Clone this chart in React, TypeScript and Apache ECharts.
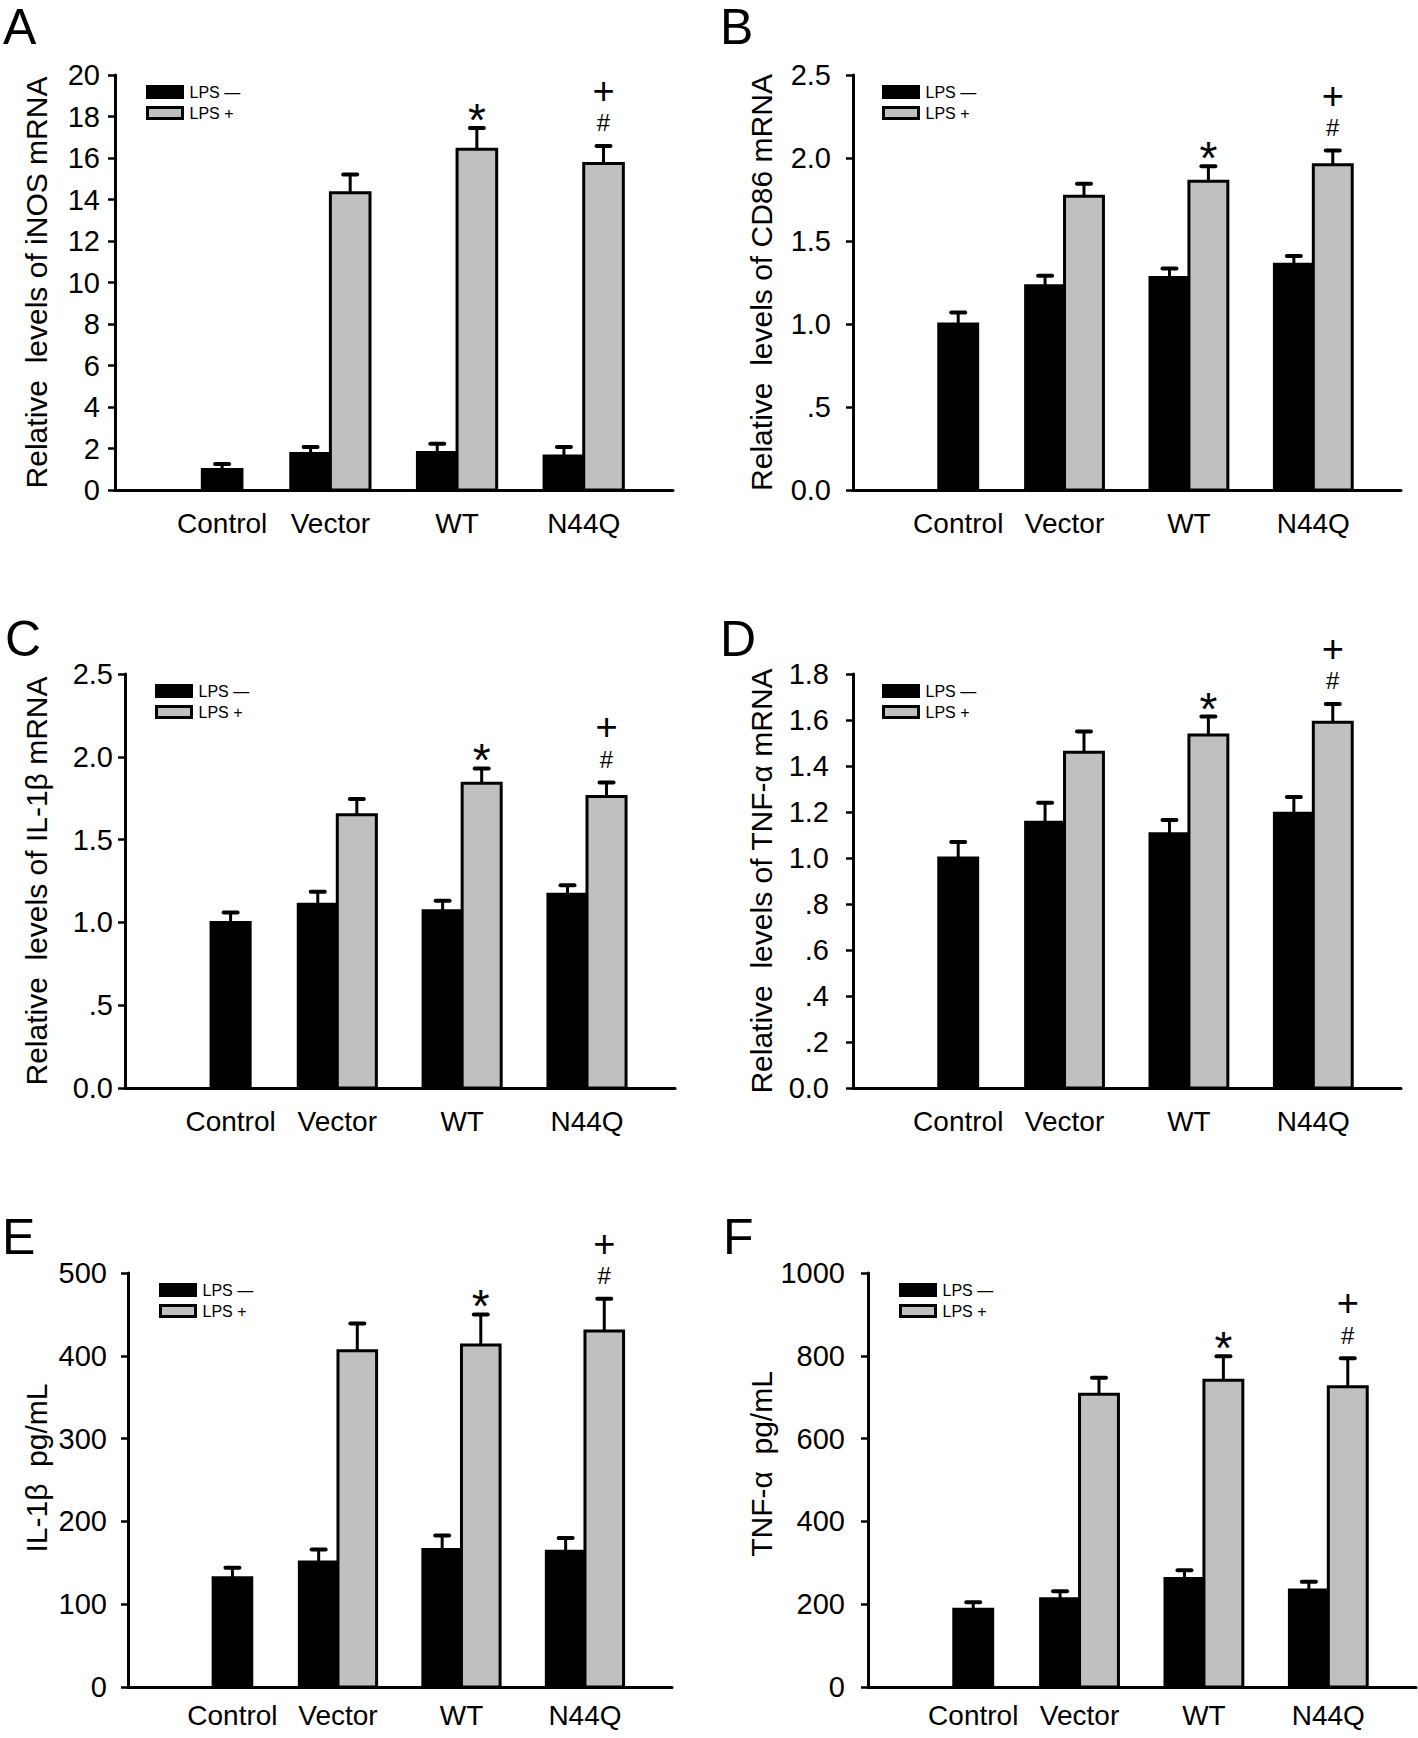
import React, { useEffect, useRef } from "react";
import * as echarts from "echarts";

// ---------- data ----------
const CATEGORIES = ["Control", "Vector", "WT", "N44Q"];
const NAME_NEG = "LPS —";
const NAME_POS = "LPS +";

// A: iNOS mRNA
const INOS_NEG = [0.99, 1.76, 1.81, 1.64];
const INOS_NEG_ERR = [0.26, 0.31, 0.42, 0.43];
const INOS_POS = [null, 14.32, 16.42, 15.74];
const INOS_POS_ERR = [null, 0.88, 1.03, 0.84];

// B: CD86 mRNA
const CD86_NEG = [1.0, 1.23, 1.28, 1.36];
const CD86_NEG_ERR = [0.07, 0.06, 0.055, 0.05];
const CD86_POS = [null, 1.77, 1.86, 1.96];
const CD86_POS_ERR = [null, 0.075, 0.09, 0.085];

// C: IL-1β mRNA
const IL1B_MRNA_NEG = [1.0, 1.11, 1.07, 1.17];
const IL1B_MRNA_NEG_ERR = [0.06, 0.075, 0.06, 0.055];
const IL1B_MRNA_POS = [null, 1.65, 1.84, 1.76];
const IL1B_MRNA_POS_ERR = [null, 0.095, 0.09, 0.085];

// D: TNF-α mRNA
const TNF_MRNA_NEG = [1.0, 1.155, 1.105, 1.195];
const TNF_MRNA_NEG_ERR = [0.07, 0.085, 0.06, 0.07];
const TNF_MRNA_POS = [null, 1.46, 1.535, 1.59];
const TNF_MRNA_POS_ERR = [null, 0.09, 0.08, 0.08];

// E: IL-1β pg/mL
const IL1B_PG_NEG = [132, 151, 166, 164];
const IL1B_PG_NEG_ERR = [12, 15, 17, 16];
const IL1B_PG_POS = [null, 406, 413, 430];
const IL1B_PG_POS_ERR = [null, 33, 37, 39];

// F: TNF-α pg/mL
const TNF_PG_NEG = [188, 213, 262, 234];
const TNF_PG_NEG_ERR = [17, 18, 20, 20];
const TNF_PG_POS = [null, 707, 741, 725];
const TNF_PG_POS_ERR = [null, 40, 58, 69];

// significance marks above the LPS+ bars
const MARKS_LOW = ["", "", "*", "#"];
const MARKS_HIGH = ["", "", "", "+"];

// axis ranges / ticks
const Y_MAX = [20, 2.5, 2.5, 1.8, 500, 1000];
const Y_INTERVAL = [2, 0.5, 0.5, 0.2, 100, 200];
const Y_TITLES = [
  "Relative\u00a0 levels of iNOS mRNA",
  "Relative\u00a0 levels of CD86 mRNA",
  "Relative\u00a0 levels of IL-1β mRNA",
  "Relative\u00a0 levels of TNF-α mRNA",
  "IL-1β\u00a0 pg/mL",
  "TNF-α\u00a0 pg/mL",
];
const PANEL_LETTERS = ["A", "B", "C", "D", "E", "F"];

// ---------- layout (not data) ----------
const FONT = '"Liberation Sans", Arial, Helvetica, sans-serif';
const X_MAX = 100;
const GROUP_POS = [19.2, 38.6, 61.3, 84.0];
const BAR_W = 7.1;

const LAYOUT = [
  { grid: { left: 115, top: 75, width: 558, height: 415 }, nameGap: 64, namePad: 0, labelMargin: 15, xMargin: 19, legend: { left: 146, top: 84 }, letter: [3, 52], decimals: false },
  { grid: { left: 853, top: 75, width: 548, height: 415 }, nameGap: 77, namePad: 0, labelMargin: 22, xMargin: 19, legend: { left: 882, top: 84 }, letter: [720, 52], decimals: true },
  { grid: { left: 125, top: 674, width: 550, height: 414 }, nameGap: 74, namePad: 0, labelMargin: 12, xMargin: 19, legend: { left: 155, top: 683 }, letter: [5, 664], decimals: true },
  { grid: { left: 853, top: 674, width: 548, height: 414 }, nameGap: 77, namePad: 0, labelMargin: 24, xMargin: 19, legend: { left: 882, top: 683 }, letter: [720, 664], decimals: true },
  { grid: { left: 128, top: 1273, width: 544, height: 414 }, nameGap: 77, namePad: 24, labelMargin: 21, xMargin: 14, legend: { left: 159, top: 1282 }, letter: [2, 1262], decimals: false },
  { grid: { left: 868, top: 1273, width: 548, height: 414 }, nameGap: 87, namePad: 32, labelMargin: 23, xMargin: 14, legend: { left: 899, top: 1282 }, letter: [723, 1262], decimals: false },
];

const PANEL_DATA = [
  [INOS_NEG, INOS_NEG_ERR, INOS_POS, INOS_POS_ERR],
  [CD86_NEG, CD86_NEG_ERR, CD86_POS, CD86_POS_ERR],
  [IL1B_MRNA_NEG, IL1B_MRNA_NEG_ERR, IL1B_MRNA_POS, IL1B_MRNA_POS_ERR],
  [TNF_MRNA_NEG, TNF_MRNA_NEG_ERR, TNF_MRNA_POS, TNF_MRNA_POS_ERR],
  [IL1B_PG_NEG, IL1B_PG_NEG_ERR, IL1B_PG_POS, IL1B_PG_POS_ERR],
  [TNF_PG_NEG, TNF_PG_NEG_ERR, TNF_PG_POS, TNF_PG_POS_ERR],
];

const GRAY = "#c0c0c0";

function decimalLabel(v: number) {
  let s = v.toFixed(1);
  if (v > 0 && v < 1) s = s.slice(1);
  return s;
}

function makeRender(kind: "neg" | "pos", posVals: (number | null)[]) {
  return (params: any, api: any) => {
    const cx = api.value(0);
    const v = api.value(1);
    const e = api.value(2);
    const ci = api.value(3);
    const p0 = api.coord([cx, 0]);
    const p1 = api.coord([cx, v]);
    const p2 = api.coord([cx, v + e]);
    const w = api.size([BAR_W, 0])[0];
    let x0: number;
    if (kind === "neg") {
      x0 = posVals[ci] == null ? p0[0] - w / 2 : p0[0] - w;
    } else {
      x0 = p0[0];
    }
    const mid = x0 + w / 2;
    const children: any[] = [
      {
        type: "rect",
        shape: { x: x0, y: p1[1], width: w, height: p0[1] - p1[1] },
        style: { fill: kind === "neg" ? "#000" : GRAY, stroke: "#000", lineWidth: 3 },
      },
      {
        type: "line",
        shape: { x1: mid, y1: p1[1], x2: mid, y2: p2[1] },
        style: { stroke: "#000", lineWidth: 3 },
      },
      {
        type: "line",
        shape: { x1: mid - 7, y1: p2[1], x2: mid + 7, y2: p2[1] },
        style: { stroke: "#000", lineWidth: 4, lineCap: "round" },
      },
    ];
    if (kind === "pos") {
      const low = MARKS_LOW[ci];
      const high = MARKS_HIGH[ci];
      if (low === "*") {
        children.push({
          type: "text",
          style: { text: "*", x: mid, y: p2[1] - 8, align: "center", verticalAlign: "middle", font: `46px ${FONT}`, fill: "#000" },
        });
      } else if (low === "#") {
        children.push({
          type: "text",
          style: { text: "#", x: mid, y: p2[1] - 23, align: "center", verticalAlign: "middle", font: `24px ${FONT}`, fill: "#000" },
        });
      }
      if (high === "+") {
        children.push({
          type: "text",
          style: { text: "+", x: mid, y: p2[1] - 55, align: "center", verticalAlign: "middle", font: `38px ${FONT}`, fill: "#000" },
        });
      }
    }
    return { type: "group", children };
  };
}

function buildOption() {
  const grid: any[] = [];
  const xAxis: any[] = [];
  const yAxis: any[] = [];
  const series: any[] = [];
  const legend: any[] = [];
  const graphic: any[] = [];

  LAYOUT.forEach((L, p) => {
    const [neg, negErr, pos, posErr] = PANEL_DATA[p] as any[];
    grid.push({ ...L.grid, containLabel: false });
    xAxis.push({
      gridIndex: p,
      type: "value",
      min: 0,
      max: X_MAX,
      axisLine: { show: true, onZero: false, lineStyle: { color: "#000", width: 3 } },
      axisTick: { show: false },
      splitLine: { show: false },
      axisLabel: {
        customValues: GROUP_POS,
        formatter: (v: number) => {
          const idx = GROUP_POS.findIndex((g) => Math.abs(g - v) < 1e-6);
          return idx >= 0 ? CATEGORIES[idx] : "";
        },
        margin: L.xMargin,
        fontSize: 28,
        fontFamily: FONT,
        color: "#000",
      },
    });
    yAxis.push({
      gridIndex: p,
      type: "value",
      min: 0,
      max: Y_MAX[p],
      interval: Y_INTERVAL[p],
      name: Y_TITLES[p],
      nameLocation: "middle",
      nameGap: L.nameGap,
      nameTextStyle: { fontSize: 30, fontFamily: FONT, color: "#000", padding: [0, 0, 0, L.namePad] },
      axisLine: { show: true, lineStyle: { color: "#000", width: 3 } },
      axisTick: { show: true, inside: false, length: 7, lineStyle: { color: "#000", width: 2.5 } },
      splitLine: { show: false },
      axisLabel: {
        margin: L.labelMargin,
        fontSize: 29,
        fontFamily: FONT,
        color: "#000",
        formatter: (v: number) => (L.decimals ? decimalLabel(v) : String(Math.round(v))),
      },
    });
    const negData = neg.map((v: number, i: number) => [GROUP_POS[i], v, negErr[i], i]);
    const posData = pos
      .map((v: number | null, i: number) => (v == null ? null : [GROUP_POS[i], v, posErr[i], i]))
      .filter((d: any) => d != null);
    series.push({
      type: "custom",
      name: NAME_NEG,
      xAxisIndex: p,
      yAxisIndex: p,
      itemStyle: { color: "#000", borderColor: "#000", borderWidth: 3 },
      renderItem: makeRender("neg", pos),
      data: negData,
      encode: { x: 0, y: 1 },
      clip: false,
      silent: true,
    });
    series.push({
      type: "custom",
      name: NAME_POS,
      xAxisIndex: p,
      yAxisIndex: p,
      itemStyle: { color: GRAY, borderColor: "#000", borderWidth: 3 },
      renderItem: makeRender("pos", pos),
      data: posData,
      encode: { x: 0, y: 1 },
      clip: false,
      silent: true,
    });
    legend.push({
      left: L.legend.left,
      top: L.legend.top,
      orient: "vertical",
      padding: 0,
      itemWidth: 35,
      itemHeight: 11,
      itemGap: 5,
      icon: "rect",
      selectedMode: false,
      textStyle: { fontSize: 16, fontFamily: FONT, color: "#000", padding: [0, 0, 0, 2] },
      data: [
        { name: NAME_NEG, itemStyle: { color: "#000", borderColor: "#000", borderWidth: 3 } },
        { name: NAME_POS, itemStyle: { color: GRAY, borderColor: "#000", borderWidth: 3 } },
      ],
    });
    graphic.push({
      type: "text",
      x: L.letter[0],
      y: L.letter[1],
      style: {
        text: PANEL_LETTERS[p],
        font: `50px ${FONT}`,
        fill: "#000",
        align: "left",
        verticalAlign: "bottom",
      },
    });
  });

  return {
    animation: false,
    backgroundColor: "#fff",
    grid,
    xAxis,
    yAxis,
    series,
    legend,
    graphic,
  };
}

export default function App() {
  const ref = useRef<HTMLDivElement>(null);
  useEffect(() => {
    if (!ref.current) return;
    const chart = echarts.init(ref.current, null, { renderer: "svg" });
    chart.setOption(buildOption() as any);
    return () => chart.dispose();
  }, []);
  return (
    <div
      ref={ref}
      style={{ position: "absolute", left: 0, top: 0, width: 1418, height: 1738, background: "#fff" }}
    />
  );
}
